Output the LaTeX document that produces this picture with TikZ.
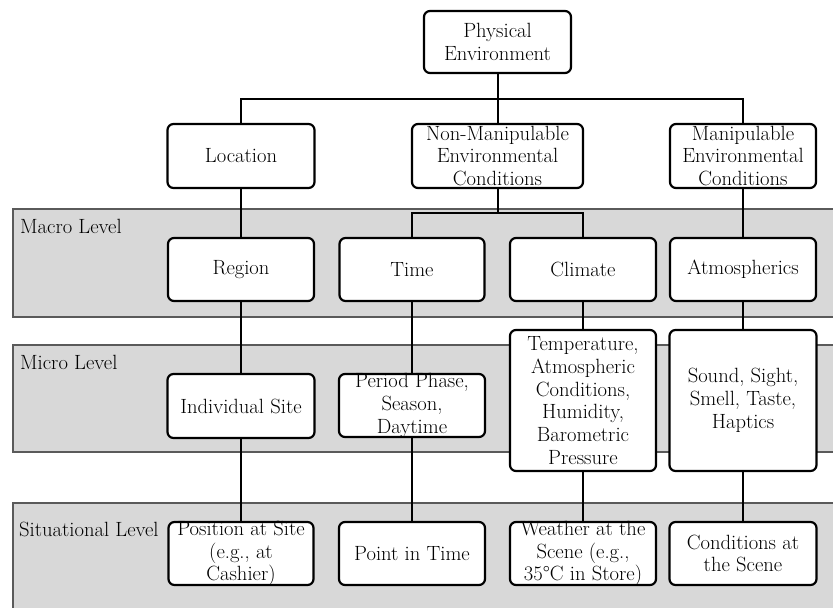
\documentclass[tikz,border=0pt]{standalone}
\usepackage{fontspec}
\newcommand\diagfont{\fontsize{20.6}{22.7}\selectfont}
\definecolor{bandfill}{HTML}{D8D8D8}
\definecolor{bandline}{HTML}{5A5A5A}
\pgfdeclarelayer{bandlayer}
\pgfdeclarelayer{linelayer}
\pgfsetlayers{bandlayer,linelayer,main}
\tikzset{
  box/.style 2 args={draw, line width=2.2pt, rounded corners=6pt, fill=white,
    inner sep=0pt, outer sep=0pt, minimum width=#1, minimum height=#2},
  lbl/.style={align=center, font=\diagfont, inner sep=0pt},
  conn/.style={line width=2pt},
  band/.style={fill=bandfill},
  bandedge/.style={draw=bandline, line width=1.2pt},
  levelname/.style={font=\diagfont, anchor=base west, inner sep=0pt}
}
\begin{document}
\begin{tikzpicture}[x=1pt, y=-1pt]
\useasboundingbox (0,0) rectangle (833,608);

% level bands
\begin{pgfonlayer}{bandlayer}
\fill[band] (13,209) rectangle (833,317);
\draw[bandedge] (833,209) -- (13,209) -- (13,317) -- (833,317);
\fill[band] (13,345) rectangle (833,452);
\draw[bandedge] (833,345) -- (13,345) -- (13,452) -- (833,452);
\fill[band] (13,503) rectangle (833,608);
\draw[bandedge] (833,503) -- (13,503) -- (13,608);
\end{pgfonlayer}

\node[levelname] (macro) at (20,233) {Macro Level};
\node[levelname] (micro) at (20,369) {Micro Level};
\node[levelname] (situ) at (19,536) {Situational Level};

% boxes
\node[box={147pt}{62pt}, label={[lbl]center:{Physical\\Environment}}] (phys) at (497.5,42) {};
\node[box={147pt}{64pt}, label={[lbl]center:{Location}}] (loc) at (241,156) {};
\node[box={171pt}{64pt}, label={[lbl]center:{Non-Manipulable\\Environmental\\Conditions}}] (nonman) at (497.5,156) {};
\node[box={146pt}{64pt}, label={[lbl]center:{Manipulable\\Environmental\\Conditions}}] (manip) at (743,156) {};

\node[box={146pt}{63pt}, label={[lbl]center:{Region}}] (region) at (241,269.5) {};
\node[box={145pt}{63pt}, label={[lbl]center:{Time}}] (time) at (412,269.5) {};
\node[box={146pt}{63pt}, label={[lbl]center:{Climate}}] (climate) at (583,269.5) {};
\node[box={146pt}{63pt}, label={[lbl]center:{Atmospherics}}] (atmos) at (743,269.5) {};

\node[box={147pt}{64pt}, label={[lbl]center:{Individual Site}}] (indiv) at (241,406) {};
\node[box={146pt}{63pt}, label={[lbl]center:{Period Phase,\\Season,\\Daytime}}] (period) at (412,405.5) {};
\node[box={146pt}{141pt}, label={[lbl]center:{Temperature,\\Atmospheric\\Conditions,\\Humidity,\\Barometric\\Pressure}}] (temp) at (583,400.5) {};
\node[box={147pt}{141pt}, label={[lbl]center:{Sound, Sight,\\Smell, Taste,\\Haptics}}] (sound) at (743,400.5) {};

\node[box={145pt}{63pt}, label={[lbl]center:{Position at Site\\(e.g., at\\Cashier)}}] (pos) at (241,553.5) {};
\node[box={146pt}{63pt}, label={[lbl]center:{Point in Time}}] (point) at (412,553.5) {};
\node[box={146pt}{63pt}, label={[lbl]center:{Weather at the\\Scene (e.g.,\\35°C in Store)}}] (weather) at (583,553.5) {};
\node[box={147pt}{63pt}, label={[lbl]center:{Conditions at\\the Scene}}] (cond) at (743,553.5) {};

% connectors, kept behind the boxes
\coordinate (j1) at (497.5,99);
\coordinate (j2) at (497.5,213);
\begin{pgfonlayer}{linelayer}
\draw[conn] (phys.south) -- (j1);
\draw[conn] (loc.north) |- (j1) -| (manip.north);
\draw[conn] (j1) -- (nonman.north);
\draw[conn] (nonman.south) -- (j2);
\draw[conn] (time.north) |- (j2) -| (climate.north);
\draw[conn] (loc.south) -- (region.north);
\draw[conn] (region.south) -- (indiv.north);
\draw[conn] (indiv.south) -- (pos.north);
\draw[conn] (time.south) -- (period.north);
\draw[conn] (period.south) -- (point.north);
\draw[conn] (climate.south) -- (temp.north);
\draw[conn] (temp.south) -- (weather.north);
\draw[conn] (manip.south) -- (atmos.north);
\draw[conn] (atmos.south) -- (sound.north);
\draw[conn] (sound.south) -- (cond.north);
\end{pgfonlayer}
\end{tikzpicture}
\end{document}
